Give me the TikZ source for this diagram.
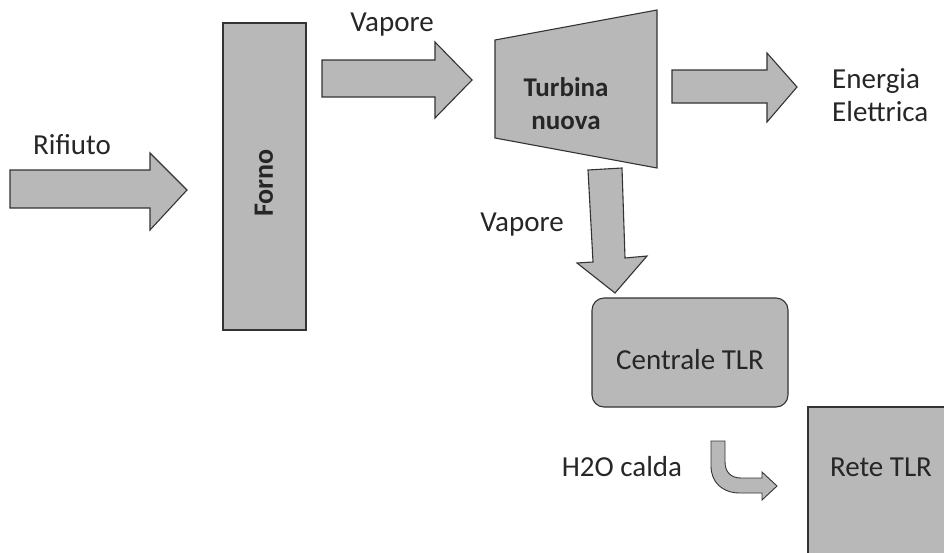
\documentclass[tikz,border=0pt]{standalone}
\usepackage{fontspec}
\setmainfont{Carlito}
\begin{document}
\begin{tikzpicture}[x=1pt,y=-1pt,
  blockshape/.style={fill=black!28, draw=black!80, line width=1.1pt, line join=miter},
  lbl/.style={font=\fontsize{29}{33}\selectfont, text=black!85, inner sep=0pt},
  inlbl/.style={font=\fontsize{29}{33}\selectfont, text=black!85, inner sep=0pt}]
\useasboundingbox (0,0) rectangle (944,552);
% Forno
\draw[blockshape] (223,23) rectangle (306,330);
\node[inlbl, rotate=90, font=\fontsize{28}{31}\selectfont\bfseries] (forno) at (264,183) {Forno};
% Rifiuto arrow
\draw[blockshape] (10,170) -- (150,170) -- (150,153) -- (187,190) -- (150,230) -- (150,208) -- (10,208) -- cycle;
\node[lbl] (rifiuto) at (72,145) {Rifiuto};
% Vapore arrow top
\draw[blockshape] (322,60) -- (435,60) -- (435,42) -- (472,80) -- (435,118) -- (435,97) -- (322,97) -- cycle;
\node[lbl] (vap1) at (392,25) {Vapore};
% Turbina
\draw[blockshape] (495,40) -- (657,10) -- (657,168) -- (495,138) -- cycle;
\node[inlbl, font=\fontsize{27}{33}\selectfont\bfseries, align=center] (turb) at (566,104) {Turbina\\nuova};
% Energia arrow
\draw[blockshape] (672,70) -- (767,70) -- (767,53) -- (797,87) -- (767,122) -- (767,103) -- (672,103) -- cycle;
\node[lbl, align=left, anchor=west] (energia) at (832,95) {Energia\\Elettrica};
% Down arrow
\draw[blockshape] (588,170) -- (622,168) -- (625,258) -- (647,256) -- (615,293) -- (577,263) -- (593,262) -- cycle;
\node[lbl] (vap2) at (522,225) {Vapore};
% Centrale TLR
\draw[blockshape, rounded corners=12pt] (592,298) rectangle (788,407);
\node[inlbl] (centrale) at (690,360) {Centrale TLR};
% Rete TLR
\draw[blockshape] (808,407) rectangle (946,554);
\node[inlbl] (rete) at (881,467) {Rete TLR};
% H2O calda and bent arrow
\node[lbl] (h2o) at (622,467) {H2O calda};
\draw[blockshape, line width=0.9pt] (711,441) -- (725,441) -- (725,462) .. controls (725,472) and (731,478) .. (741,478) -- (762,478) -- (762,472) -- (777,486) -- (762,500) -- (762,493) -- (740,493) .. controls (722,493) and (711,482) .. (711,466) -- cycle;
\end{tikzpicture}
\end{document}
